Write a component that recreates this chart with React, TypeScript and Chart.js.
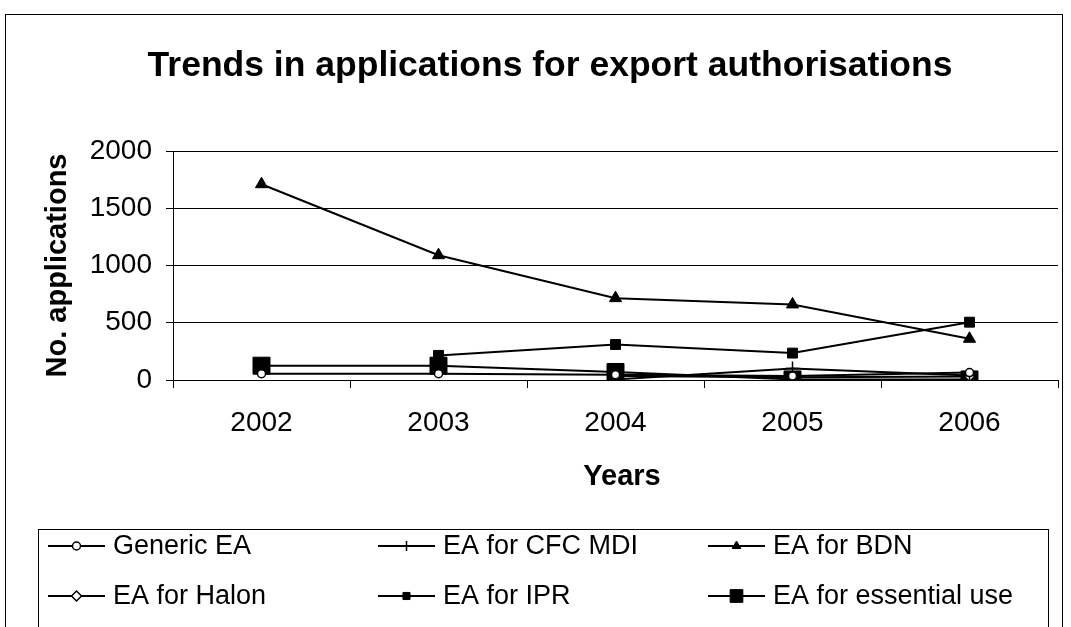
import React, { useEffect, useRef } from "react";
import { Chart, registerables } from "chart.js";
import { drawPoint } from "chart.js/helpers";

Chart.register(...registerables);

const FONT = "'Liberation Sans', Arial, sans-serif";

// Categories and series values
const years = ["2002", "2003", "2004", "2005", "2006"];
const genericEA = [55, 55, 45, 35, 65];
const cfcMdi = [null, null, 5, 100, 40];
const bdn = [1710, 1090, 715, 660, 360];
const halon = [null, null, 35, 25, 30];
const ipr = [null, 215, 310, 235, 505];
const essentialUse = [125, 125, 70, 5, 5];

const yMin = 0;
const yMax = 2000;
const yStep = 500;

const chartTitle = "Trends in applications for export authorisations";
const yTitle = "No. applications";
const xTitle = "Years";

type Series = {
  label: string;
  data: (number | null)[];
  pointStyle: string;
  radius: number;
  fill: string;
  borderWidth: number;
};

const series: Series[] = [
  { label: "Generic EA", data: genericEA, pointStyle: "circle", radius: 4, fill: "#ffffff", borderWidth: 1.5 },
  { label: "EA for CFC MDI", data: cfcMdi, pointStyle: "cross", radius: 7, fill: "#000000", borderWidth: 1.5 },
  { label: "EA for BDN", data: bdn, pointStyle: "triangle", radius: 7, fill: "#000000", borderWidth: 1 },
  { label: "EA for Halon", data: halon, pointStyle: "rectRot", radius: 5, fill: "#ffffff", borderWidth: 1.5 },
  { label: "EA for IPR", data: ipr, pointStyle: "rect", radius: 7, fill: "#000000", borderWidth: 1 },
  { label: "EA for essential use", data: essentialUse, pointStyle: "rect", radius: 12, fill: "#000000", borderWidth: 1 },
];

// Frame, titles and a three-column boxed legend
const decorations = {
  id: "decorations",
  beforeDraw(chart: any) {
    const ctx = chart.ctx;
    ctx.save();
    ctx.fillStyle = "#ffffff";
    ctx.fillRect(0, 0, chart.width, chart.height);
    ctx.strokeStyle = "#000000";
    ctx.lineWidth = 1;
    ctx.strokeRect(5.5, 14.5, 1057, 700);
    ctx.restore();
  },
  afterDraw(chart: any) {
    const ctx = chart.ctx;
    const area = chart.chartArea;
    ctx.save();
    ctx.fillStyle = "#000000";
    ctx.textAlign = "center";
    ctx.textBaseline = "middle";

    ctx.font = `bold 35.5px ${FONT}`;
    ctx.fillText(chartTitle, 550, 66);

    ctx.font = `bold 29px ${FONT}`;
    ctx.fillText(xTitle, 622, 477);

    ctx.save();
    ctx.translate(58, (area.top + area.bottom) / 2);
    ctx.rotate(-Math.PI / 2);
    ctx.fillText(yTitle, 0, 0);
    ctx.restore();

    // legend box
    ctx.strokeStyle = "#000000";
    ctx.lineWidth = 1;
    ctx.strokeRect(38.5, 529.5, 1010, 200);

    const colX = [48, 378, 708];
    const rowY = [546, 596];
    ctx.font = `27px ${FONT}`;
    ctx.textAlign = "left";
    series.forEach((s, i) => {
      const x0 = colX[i % 3];
      const y = rowY[Math.floor(i / 3)];
      ctx.strokeStyle = "#000000";
      ctx.lineWidth = 2;
      ctx.beginPath();
      ctx.moveTo(x0, y);
      ctx.lineTo(x0 + 57, y);
      ctx.stroke();
      ctx.fillStyle = s.fill;
      ctx.strokeStyle = "#000000";
      ctx.lineWidth = s.borderWidth;
      const r = s.label === "EA for essential use" ? 9 : Math.min(s.radius, 5);
      drawPoint(ctx, { pointStyle: s.pointStyle as any, radius: r, rotation: 0, borderWidth: s.borderWidth }, x0 + 28.5, y);
      ctx.fillStyle = "#000000";
      ctx.fillText(s.label, x0 + 65, y + 1);
    });
    ctx.restore();
  },
};

export default function App() {
  const canvasRef = useRef<HTMLCanvasElement | null>(null);

  useEffect(() => {
    const canvas = canvasRef.current;
    if (!canvas) return;
    const chart = new Chart(canvas, {
      type: "line",
      data: {
        labels: years,
        datasets: series.map((s) => ({
          label: s.label,
          data: s.data,
          borderColor: "#000000",
          borderWidth: 2,
          backgroundColor: s.fill,
          pointStyle: s.pointStyle as any,
          pointRadius: s.radius,
          pointBackgroundColor: s.fill,
          pointBorderColor: "#000000",
          pointBorderWidth: s.borderWidth,
          tension: 0,
          fill: false,
          spanGaps: false,
        })),
      },
      options: {
        responsive: false,
        animation: false,
        devicePixelRatio: 1,
        layout: { padding: { left: 73, top: 151, right: 11, bottom: 0 } },
        plugins: {
          legend: { display: false },
          title: { display: false },
          tooltip: { enabled: false },
        },
        scales: {
          x: {
            type: "category",
            offset: true,
            grid: {
              offset: true,
              drawOnChartArea: false,
              drawTicks: true,
              tickLength: 8,
              color: "#000000",
            },
            border: { display: true, color: "#000000", width: 1 },
            ticks: {
              color: "#000000",
              font: { family: FONT, size: 28 },
              padding: 18,
              maxRotation: 0,
            },
            afterFit(scale: any) {
              scale.height = 247;
            },
          },
          y: {
            min: yMin,
            max: yMax,
            grid: {
              color: "#000000",
              lineWidth: 1,
              drawTicks: true,
              tickLength: 7,
            },
            border: { display: true, color: "#000000", width: 1 },
            ticks: {
              stepSize: yStep,
              color: "#000000",
              font: { family: FONT, size: 28 },
              padding: 14,
              callback: (value: any) => String(value),
            },
            afterFit(scale: any) {
              scale.width = 100;
            },
          },
        },
      },
      plugins: [decorations],
    });
    return () => chart.destroy();
  }, []);

  return (
    <div style={{ position: "absolute", left: 0, top: 0, width: 1071, height: 627, background: "#fff" }}>
      <canvas ref={canvasRef} width={1071} height={627} style={{ display: "block" }} />
    </div>
  );
}
